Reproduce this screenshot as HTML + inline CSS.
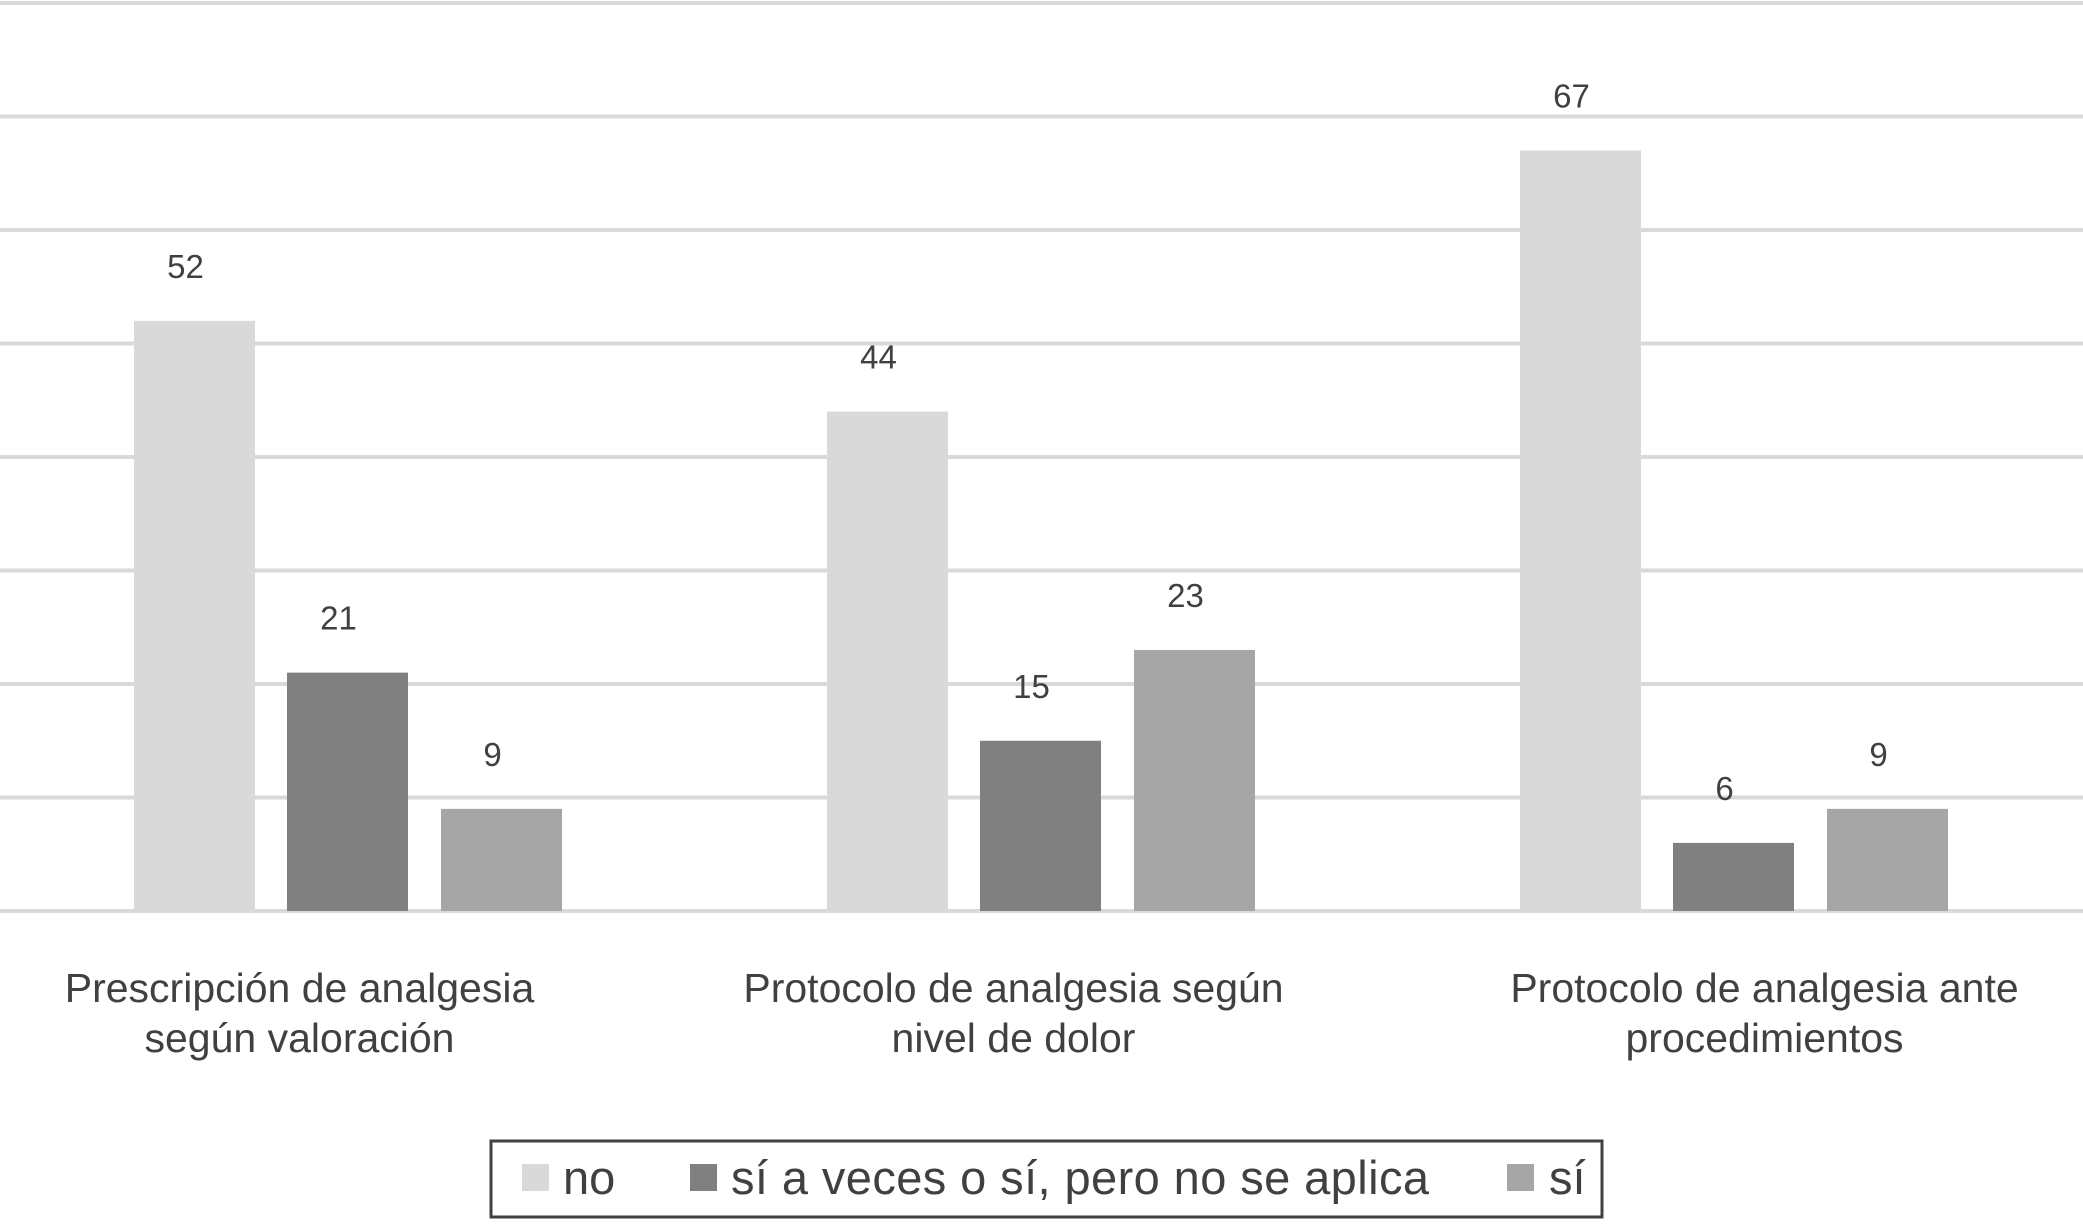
<!DOCTYPE html>
<html><head><meta charset="utf-8">
<style>
body{margin:0;background:#fff;width:2083px;height:1219px;overflow:hidden;font-family:"Liberation Sans",Arial,sans-serif;}
</style></head>
<body>
<svg id="chart" width="2083" height="1219" viewBox="0 0 2083 1219" xmlns="http://www.w3.org/2000/svg">
<g id="grid"></g>
<g id="bars"></g>
<g id="labels"></g>
<g id="cats"></g>
<g id="legend">
  <rect x="491" y="1141" width="1111" height="76" fill="#fff" stroke="#404040" stroke-width="3"/>
  <rect x="522" y="1164" width="27" height="27" fill="#d9d9d9"/>
  <text x="563" y="1194" font-size="47" fill="#404040">no</text>
  <rect x="690" y="1164" width="27" height="27" fill="#808080"/>
  <text x="731" y="1194" font-size="47" fill="#404040" textLength="698">sí a veces o sí, pero no se aplica</text>
  <rect x="1507" y="1164" width="27" height="27" fill="#a6a6a6"/>
  <text x="1549" y="1194" font-size="47" fill="#404040">sí</text>
</g>
</svg>
<script>
const categories = [["Prescripción de analgesia","según valoración"],["Protocolo de analgesia según","nivel de dolor"],["Protocolo de analgesia ante","procedimientos"]];
const seriesNo = [52,44,67];
const seriesAVeces = [21,15,6];
const seriesSi = [9,23,9];
const yTicks = [0,10,20,30,40,50,60,70,80];

const NS="http://www.w3.org/2000/svg";
const baseY=911, topY=3, yMax=80;
const y = v => baseY - (baseY-topY)*v/yMax;
const groupW=693, groupX0=0, barW=121;
const barOffsets=[134,287,441];
const labelShift=[-48,-27,31];
const x = (gi, si) => groupX0 + gi*groupW + barOffsets[si];
function mk(tag, attrs, parent){const e=document.createElementNS(NS,tag);for(const k in attrs)e.setAttribute(k,attrs[k]);parent.appendChild(e);return e;}
const grid=document.getElementById('grid');
yTicks.forEach(t=>{
  const l=mk('line',{x1:0,x2:2083,y1:y(t),y2:y(t),stroke:'#d9d9d9','stroke-width':4},grid);
  
  
});
const series=[seriesNo,seriesAVeces,seriesSi];
const colors=['#d9d9d9','#808080','#a6a6a6'];
const names=['no','a-veces','si'];
const bars=document.getElementById('bars'), labels=document.getElementById('labels'), cats=document.getElementById('cats');
categories.forEach((c,gi)=>{
  series.forEach((s,si)=>{
    const v=s[gi];
    const r=mk('rect',{x:x(gi,si),y:y(v),width:barW,height:baseY-y(v),fill:colors[si]},bars);
    
    
    const t=mk('text',{x:x(gi,si)+barW/2-9,y:y(v)-43,'font-size':33,fill:'#404040','text-anchor':'middle'},labels);
    t.textContent=v;
    
    
  });
  const cx=x(gi,1)+barW/2+labelShift[gi];
  c.forEach((line,li)=>{
    const t=mk('text',{x:cx,y:1002+li*50,'font-size':41,fill:'#404040','text-anchor':'middle'},cats);
    t.textContent=line;
    
    
  });
});
</script>
</body></html>
